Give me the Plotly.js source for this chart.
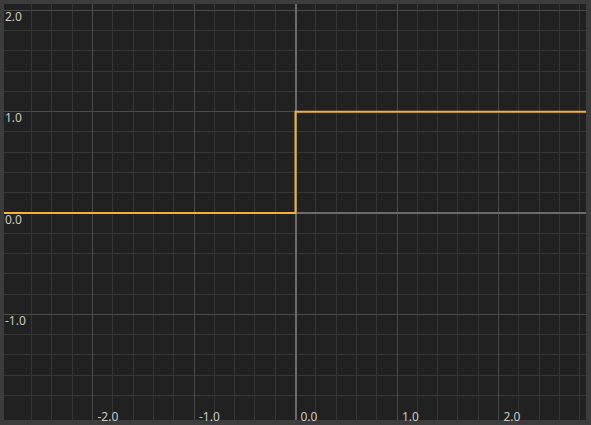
<!DOCTYPE html>
<html>
<head>
<meta charset="utf-8">
<script src="https://cdn.plot.ly/plotly-3.0.1.min.js"></script>
<style>html,body{margin:0;padding:0;background:#3c3c3c;}#chart{width:591px;height:425px;}</style>
</head>
<body>
<div id="chart"></div>
<script>
// Heaviside step data
var stepX = [-3, 0, 3];
var stepY = [0, 1, 1];
var xTicks = [-3, -2, -1, 0, 1, 2];
var yTicks = [-2, -1, 0, 1, 2];

function labels(arr) { return arr.map(function (v) { return v.toFixed(1); }); }

var trace = {
  x: stepX, y: stepY, mode: 'lines', type: 'scatter',
  line: {shape: 'hv', color: '#f2b233', width: 2},
  hoverinfo: 'skip'
};

var axisFont = {family: 'Noto Sans, DejaVu Sans, sans-serif', size: 12, color: '#c8c8c8'};

var layout = {
  width: 591, height: 425,
  margin: {l: 4, r: 5, t: 4, b: 5, pad: 0},
  paper_bgcolor: '#3c3c3c',
  plot_bgcolor: '#212121',
  showlegend: false,
  xaxis: {
    range: [-2.872, 2.862],
    tickvals: xTicks, ticktext: labels(xTicks),
    ticks: '', showline: false,
    ticklabelposition: 'inside right',
    ticklabelstandoff: -9, ticklabelshift: 5,
    tickfont: axisFont,
    gridcolor: '#4a4a4a', gridwidth: 1,
    zeroline: true, zerolinecolor: '#6a6a6a', zerolinewidth: 2,
    minor: {dtick: 0.2, showgrid: true, gridcolor: '#353535', gridwidth: 1, ticks: ''}
  },
  yaxis: {
    range: [-2.043, 2.063],
    tickvals: yTicks, ticktext: labels(yTicks),
    ticks: '', showline: false,
    ticklabelposition: 'inside bottom',
    ticklabelstandoff: -2, ticklabelshift: -2,
    tickfont: axisFont,
    gridcolor: '#4a4a4a', gridwidth: 1,
    zeroline: true, zerolinecolor: '#6a6a6a', zerolinewidth: 2,
    minor: {dtick: 0.2, showgrid: true, gridcolor: '#353535', gridwidth: 1, ticks: ''}
  }
};

Plotly.newPlot('chart', [trace], layout, {staticPlot: true, displayModeBar: false});
</script>
</body>
</html>
